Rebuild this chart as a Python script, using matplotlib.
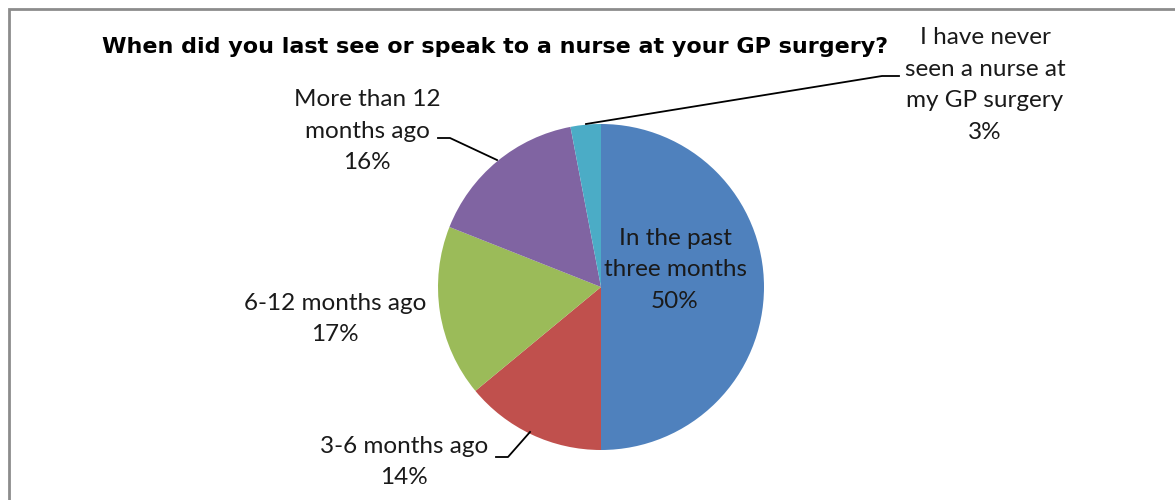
import matplotlib
matplotlib.use('Agg')
import matplotlib.pyplot as plt

title = 'When did you last see or speak to a nurse at your GP surgery?'
labels = ['In the past\nthree months', '3-6 months ago', '6-12 months ago',
          'More than 12\nmonths ago', 'I have never\nseen a nurse at\nmy GP surgery']
values = [50, 14, 17, 16, 3]
colors = ['#4F81BD', '#C0504D', '#9BBB59', '#8064A2', '#4BACC6']

W, H = 1175, 500
# label positions in pixels from top-left (layout only)
label_pos = [(675, 270), (404, 462), (335, 319), (367, 131), (985, 85)]
leaders = {
    1: [(496, 457), (508, 457), (530, 432)],
    3: [(438, 138), (450, 138), (497, 160)],
    4: [(586, 124), (882, 76), (899, 76)],
}

fig = plt.figure(figsize=(W / 100, H / 100), dpi=100)
ax = fig.add_axes([0, 0, 1, 1])

# frame of the original chart (only top and left edges visible)
ax.plot([9, 9, W + 20], [-20, H - 9, H - 9], color='#8c8c8c', lw=2,
        solid_joinstyle='miter', clip_on=False)

ax.pie(values, colors=colors, startangle=90, counterclock=False,
       center=(601, H - 287), radius=163, frame=True,
       wedgeprops=dict(linewidth=0))
ax.set_xlim(0, W)
ax.set_ylim(0, H)
ax.axis('off')

for i, (lab, val) in enumerate(zip(labels, values)):
    x, y = label_pos[i]
    ax.text(x, H - y, f'{lab}\n{val}%', ha='center', va='center',
            fontsize=17.5, family='Lato', color='#1a1a1a', linespacing=1.62)

for i, pts in leaders.items():
    ax.plot([p[0] for p in pts], [H - p[1] for p in pts], color='black', lw=1.3)

ax.text(495, H - 47, title, ha='center', va='center', fontsize=16,
        fontweight='bold', family='DejaVu Sans', color='black')

fig.savefig('out.png', dpi=100)
